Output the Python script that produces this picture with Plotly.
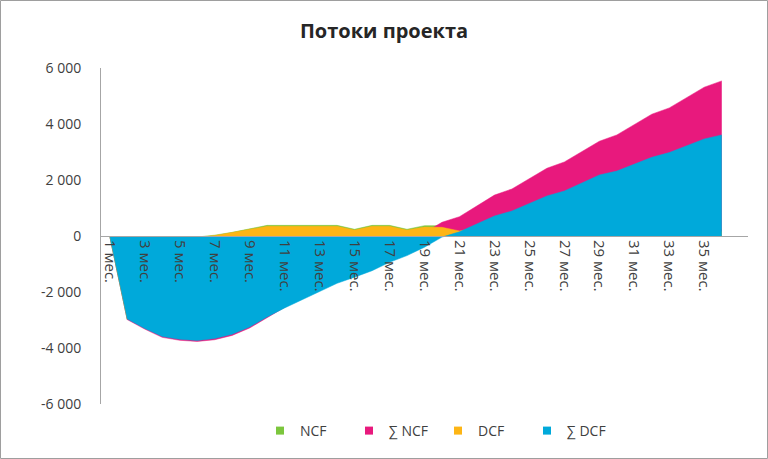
import plotly.graph_objects as go

# ---- data ----
months = [1, 2, 3, 4, 5, 6, 7, 8, 9, 10, 11, 12, 13, 14, 15, 16, 17, 18,
          19, 20, 21, 22, 23, 24, 25, 26, 27, 28, 29, 30, 31, 32, 33, 34, 35, 36]

ncf = [0, -2985, -340, -295, -105, -40, 30, 130, 255, 380, 380, 375, 380, 380, 240, 380, 380, 240,
       370, 370, 225, 370, 370, 225, 370, 370, 225, 370, 370, 225, 370, 370, 225, 370, 370, 225]

sum_ncf = [0, -2985, -3325, -3620, -3725, -3765, -3705, -3550, -3285, -2920, -2550, -2180, -1810,
           -1440, -1215, -845, -475, -250, 120, 490, 690, 1075, 1460, 1680, 2050, 2420, 2645,
           3015, 3385, 3610, 3980, 4350, 4575, 4945, 5315, 5540]

dcf = [0, -2965, -335, -290, -100, -40, 15, 125, 240, 345, 345, 340, 345, 345, 210, 345, 345, 210,
       320, 310, 180, 285, 285, 180, 270, 268, 175, 265, 262, 165, 255, 252, 160, 245, 242, 150]

sum_dcf = [0, -2965, -3300, -3590, -3690, -3730, -3665, -3510, -3250, -2890, -2570, -2270, -1980,
           -1690, -1470, -1240, -940, -700, -400, -40, 150, 430, 714, 893, 1160, 1429, 1607,
           1895, 2180, 2320, 2565, 2810, 2980, 3220, 3465, 3610]

x_tick_vals = [1, 3, 5, 7, 9, 11, 13, 15, 17, 19, 21, 23, 25, 27, 29, 31, 33, 35]
x_tick_text = ["1 мес.", "3 мес.", "5 мес.", "7 мес.", "9 мес.", "11 мес.", "13 мес.", "15 мес.",
               "17 мес.", "19 мес.", "21 мес.", "23 мес.", "25 мес.", "27 мес.", "29 мес.",
               "31 мес.", "33 мес.", "35 мес."]

y_tick_vals = [6000, 4000, 2000, 0, -2000, -4000, -6000]
y_tick_text = ["6 000", "4 000", "2 000", "0", "-2 000", "-4 000", "-6 000"]

series = [
    ("NCF", ncf, "#7CC63D"),
    ("∑ NCF", sum_ncf, "#E8197D"),
    ("DCF", dcf, "#FDB515"),
    ("∑ DCF", sum_dcf, "#00A9DA"),
]

FONT = "Open Sans, Noto Sans, DejaVu Sans, sans-serif"
TXT = "#404040"

fig = go.Figure()
for name, vals, color in series:
    fig.add_trace(go.Scatter(
        x=months, y=vals, name=name, mode="lines",
        line=dict(width=0.5, color=color), fill="tozeroy", fillcolor=color,
        showlegend=False, hoverinfo="x+y+name",
    ))
for name, vals, color in series:
    fig.add_trace(go.Scatter(
        x=[None], y=[None], name=name, mode="markers",
        marker=dict(symbol="square", size=8, color=color), showlegend=True,
    ))

W, H = 768, 459
L, R, T, B = 101, 20, 68, 55
pw, ph = W - L - R, H - T - B

fig.update_layout(
    width=W, height=H,
    margin=dict(l=L, r=R, t=T, b=B, pad=0),
    paper_bgcolor="white", plot_bgcolor="white",
    font=dict(family=FONT, color=TXT, size=13),
    title=dict(text="Потоки проекта", x=0.5, xanchor="center", xref="container",
               y=1 - 31 / H, yanchor="middle", yref="container",
               font=dict(family=FONT, size=20, color="#262626", weight="bold")),
    xaxis=dict(range=[0.5, 37.5], tickmode="array", tickvals=x_tick_vals, ticktext=x_tick_text,
               tickangle=90, showgrid=False, zeroline=False, showline=True,
               linecolor="#A6A6A6", linewidth=1, anchor="free", position=0.5,
               ticks="", tickfont=dict(size=15, color=TXT), automargin=False),
    yaxis=dict(range=[-6000, 6000], tickmode="array", tickvals=y_tick_vals, ticktext=y_tick_text,
               showgrid=False, zeroline=False, showline=True, linecolor="#A6A6A6", linewidth=1,
               ticks="", ticklabelstandoff=16, tickfont=dict(size=14, color=TXT), automargin=False),
    legend=dict(orientation="h", x=438 / W, xanchor="center", xref="container",
                y=1 - 431 / H, yanchor="middle", yref="container",
                font=dict(size=14, color=TXT), entrywidth=44, itemwidth=30,
                bgcolor="rgba(0,0,0,0)"),
    shapes=[dict(type="rect", xref="paper", yref="paper",
                 x0=(0.5 - L) / pw, x1=(W - 0.5 - L) / pw,
                 y0=(H - B - (H - 0.5)) / ph, y1=(H - B - 0.5) / ph,
                 line=dict(color="#9E9E9E", width=1), fillcolor="rgba(0,0,0,0)", layer="above")],
)

fig.write_html("out.html", config={"displayModeBar": False},
               post_script="document.body.style.margin='0px';")
